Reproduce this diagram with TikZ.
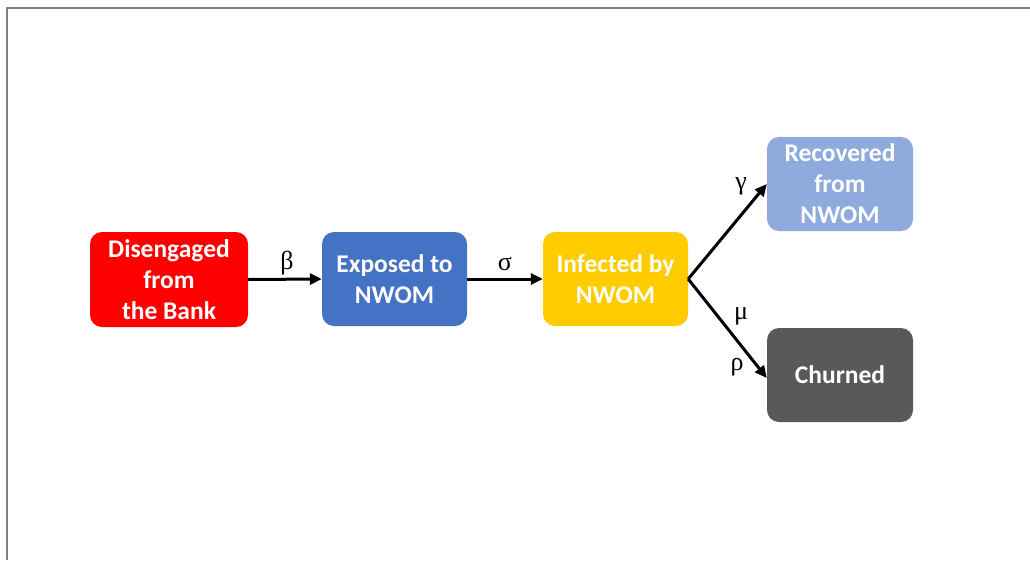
\documentclass[tikz,border=0pt]{standalone}
\usepackage{fontspec}
\setmainfont{Carlito}
\newfontfamily\grk{Liberation Serif}
\usetikzlibrary{arrows.meta}
\definecolor{cred}{HTML}{FF0000}
\definecolor{cblue}{HTML}{4472C4}
\definecolor{cgold}{HTML}{FFCC00}
\definecolor{clblue}{HTML}{8FAADC}
\definecolor{cgray}{HTML}{595959}
\definecolor{frame}{HTML}{7F7F7F}
\tikzset{
  box/.style={rectangle, rounded corners=12pt, draw=none, text=white, align=center,
    inner sep=0pt, font=\bfseries\fontsize{25.5}{31}\selectfont},
  flow/.style={line width=3pt, -{Triangle[length=12pt,width=11pt]}},
  glab/.style={font=\grk\fontsize{26}{26}\selectfont, inner sep=0pt}
}
\begin{document}
\begin{tikzpicture}[x=1pt,y=1pt]
\useasboundingbox (0,0) rectangle (1030,-560);
\fill[white] (0,0) rectangle (1030,-560);
\draw[frame, line width=2pt] (6.5,-560) -- (6.5,-7.5) -- (1030,-7.5);
\node[box, fill=cred, minimum width=158pt, minimum height=95pt] (dis) at (169,-279.5) {Disengaged\\from\\the Bank};
\node[box, fill=cblue, minimum width=145pt, minimum height=94pt] (exp) at (394.5,-279) {Exposed to\\NWOM};
\node[box, fill=cgold, minimum width=145pt, minimum height=94pt] (inf) at (615.5,-279) {Infected by\\NWOM};
\node[box, fill=clblue, minimum width=146pt, minimum height=94pt] (rec) at (840,-184) {Recovered\\from\\NWOM};
\node[box, fill=cgray, minimum width=146pt, minimum height=94pt] (chu) at (840,-375) {Churned};
\draw[flow] (dis.east) -- (exp.west);
\draw[flow] (exp.east) -- (inf.west);
\draw[flow] (inf.east) -- (rec.west);
\draw[flow] (inf.east) -- ([yshift=-3pt]chu.west);
\node[glab] (lb) at (287,-263) {β};
\node[glab] (ls) at (505,-264) {σ};
\node[glab] (lg) at (741,-186) {γ};
\node[glab] (lm) at (741,-316) {μ};
\node[glab] (lr) at (737,-367) {ρ};
\end{tikzpicture}
\end{document}
